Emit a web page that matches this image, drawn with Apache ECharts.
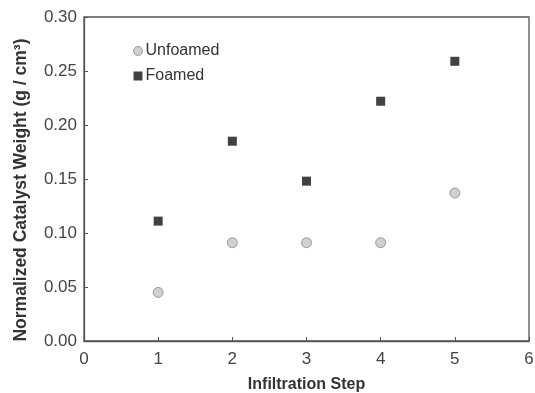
<!DOCTYPE html>
<html><head><meta charset="utf-8">
<script src="https://cdn.jsdelivr.net/npm/echarts@6/dist/echarts.min.js"></script>
<style>html,body{margin:0;padding:0;background:#fff}#c{width:535px;height:393px}</style>
</head><body><div id="c"></div>
<script>
const steps = [1, 2, 3, 4, 5];
const unfoamed = [0.045, 0.091, 0.091, 0.091, 0.137];
const foamed = [0.111, 0.185, 0.148, 0.222, 0.259];
const xTicks = [0, 1, 2, 3, 4, 5, 6];
const yTicks = [0, 0.05, 0.10, 0.15, 0.20, 0.25, 0.30];
const xTitle = 'Infiltration Step';
const yTitle = 'Normalized Catalyst Weight (g / cm³)';
const font = 'Liberation Sans, Arial, sans-serif';
const chart = echarts.init(document.getElementById('c'));
chart.setOption({
  animation: false,
  backgroundColor: '#fff',
  grid: { left: 84, right: 6, top: 17, bottom: 52, show: true, borderColor: '#555', borderWidth: 1.3,
    outerBoundsMode: 'none', containLabel: false },
  legend: {
    left: 128, top: 38, orient: 'vertical', itemGap: 9, itemWidth: 9, itemHeight: 9,
    textStyle: { fontFamily: font, fontSize: 16, color: '#333', padding: [0, 0, 0, -2] },
    data: [
      { name: 'Unfoamed', itemStyle: { color: '#c4c4c4', borderColor: '#8a8a8a', borderWidth: 1 } },
      { name: 'Foamed', icon: 'rect', itemStyle: { color: '#111' } }
    ]
  },
  graphic: [{
    type: 'text', x: 21, y: 190, rotation: Math.PI / 2,
    style: { text: yTitle, fontFamily: font, fontSize: 17.5, fontWeight: 'bold', fill: '#333',
      align: 'center', verticalAlign: 'middle' }
  }],
  xAxis: {
    type: 'value', min: 0, max: 6, interval: 1,
    name: xTitle, nameLocation: 'middle', nameGap: 36,
    nameTextStyle: { fontFamily: font, fontSize: 16, fontWeight: 'bold', color: '#333' },
    axisLine: { lineStyle: { color: '#555', width: 1.3 } },
    axisTick: { inside: true, length: 4, lineStyle: { color: '#555' } },
    axisLabel: { fontFamily: font, fontSize: 17, color: '#444', margin: 10,
      formatter: v => xTicks.includes(v) ? String(v) : '' },
    splitLine: { show: false }
  },
  yAxis: {
    type: 'value', min: 0, max: 0.30, interval: 0.05,
    axisLine: { lineStyle: { color: '#555', width: 1.3 } },
    axisTick: { inside: true, length: 4, lineStyle: { color: '#555' } },
    axisLabel: { fontFamily: font, fontSize: 17, color: '#444', margin: 7,
      formatter: v => yTicks.find(t => Math.abs(t - v) < 1e-9) !== undefined ? v.toFixed(2) : '' },
    splitLine: { show: false }
  },
  series: [
    { name: 'Unfoamed', type: 'scatter', symbol: 'circle', symbolSize: 10,
      itemStyle: { color: '#c4c4c4', borderColor: '#8a8a8a', borderWidth: 1 },
      data: steps.map((s, i) => [s, unfoamed[i]]) },
    { name: 'Foamed', type: 'scatter', symbol: 'rect', symbolSize: 9,
      itemStyle: { color: '#111' },
      data: steps.map((s, i) => [s, foamed[i]]) }
  ]
});
</script></body></html>
